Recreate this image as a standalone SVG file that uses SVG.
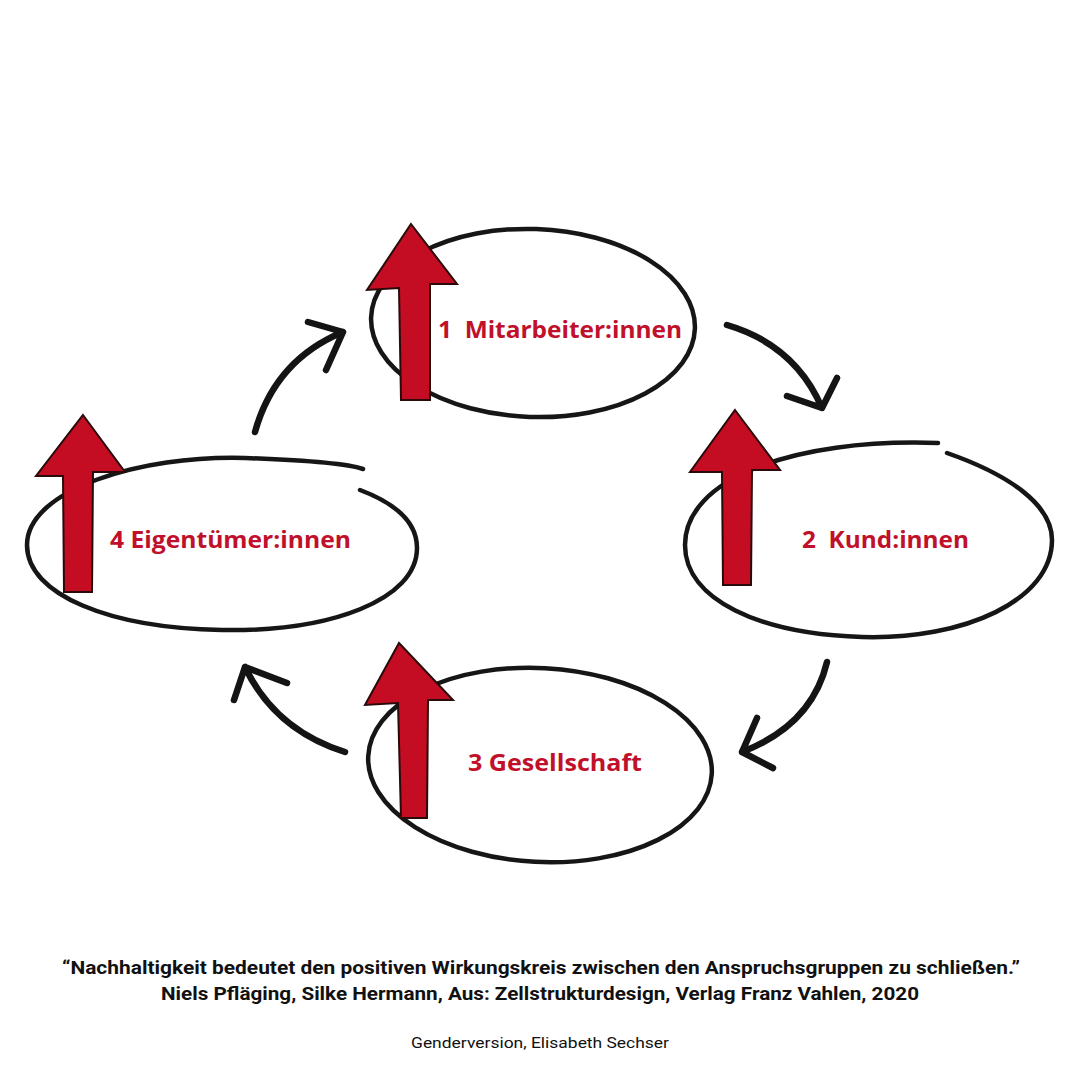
<svg xmlns="http://www.w3.org/2000/svg" width="1080" height="1080" viewBox="0 0 1080 1080">
<defs>
<style>
.ring{fill:#fff;stroke:#161616;stroke-width:4.5;stroke-linecap:round}
.up{fill:#c40d22;stroke:#2a0a0a;stroke-width:2;stroke-linejoin:miter}
.lbl{font-family:"Open Sans","Noto Sans",sans-serif;font-weight:700;font-size:24px;fill:#c0102a}
.con{fill:none;stroke:#141414;stroke-width:6.5;stroke-linecap:round;stroke-linejoin:round}
.foot{font-family:Roboto,"Liberation Sans",sans-serif;fill:#111;text-anchor:middle}
</style>
</defs>
<rect width="1080" height="1080" fill="#fff"/>

<g id="node1">
<ellipse class="ring" cx="533" cy="323" rx="162" ry="94" transform="rotate(2 533 323)"/>
<polygon class="up" points="411,224 457,284 430,284 430,400 401,400 399,288 367,290"/>
<text class="lbl" x="438" y="338" textLength="244" lengthAdjust="spacingAndGlyphs">1&#160; Mitarbeiter:innen</text>
</g>

<g id="node2">
<path class="ring" d="M947,453 C1010,475 1052,505 1052,540 C1052,600 965,640 862,637 C760,634 685,600 685,545 C685,480 790,438 938,443"/>
<polygon class="up" points="735,410 780,470 752,470 751,585 723,585 722,472 690,472"/>
<text class="lbl" x="802" y="548" textLength="167" lengthAdjust="spacingAndGlyphs">2&#160; Kund:innen</text>
</g>

<g id="node3">
<ellipse class="ring" cx="540" cy="765" rx="172" ry="97" transform="rotate(3 540 765)"/>
<polygon class="up" points="399,643 453,700 428,700 427,818 401,818 398,703 365,705"/>
<text class="lbl" x="468" y="771" textLength="174" lengthAdjust="spacingAndGlyphs">3 Gesellschaft</text>
</g>

<g id="node4">
<path class="ring" d="M360,490 C400,505 417,525 417,548 C417,600 330,632 222,630 C110,628 27,595 27,545 C27,490 140,455 245,458 C300,460 345,463 363,469"/>
<polygon class="up" points="83,415 125,472 93,472 92,592 64,592 63,476 36,476"/>
<text class="lbl" x="110" y="548" textLength="241" lengthAdjust="spacingAndGlyphs">4 Eigentümer:innen</text>
</g>

<g id="connectors">
<path class="con" d="M255,432 Q275,360 343,332 M308,322 L343,332 L326,370"/>
<path class="con" d="M727,325 Q795,345 822,408 M787,396 L822,408 L837,378"/>
<path class="con" d="M827,662 Q812,725 742,752 M757,718 L742,752 L773,768"/>
<path class="con" d="M345,752 Q275,730 245,667 M234,700 L245,667 L287,683"/>
</g>

<g id="footer">
<text class="foot" x="541" y="974" font-size="19" font-weight="700" textLength="958" lengthAdjust="spacingAndGlyphs">“Nachhaltigkeit bedeutet den positiven Wirkungskreis zwischen den Anspruchsgruppen zu schließen.”</text>
<text class="foot" x="540" y="1000" font-size="19" font-weight="700" textLength="758" lengthAdjust="spacingAndGlyphs">Niels Pfläging, Silke Hermann, Aus: Zellstrukturdesign, Verlag Franz Vahlen, 2020</text>
<text class="foot" x="540" y="1048" font-size="15" textLength="258" lengthAdjust="spacingAndGlyphs">Genderversion, Elisabeth Sechser</text>
</g>
</svg>
